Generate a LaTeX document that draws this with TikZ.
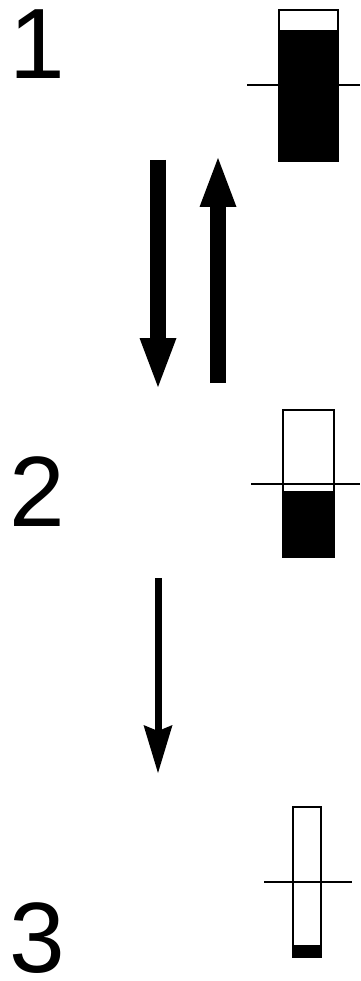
\documentclass[tikz,border=0pt]{standalone}
\usepackage{fontspec}
\setmainfont{Liberation Sans}
\usetikzlibrary{arrows.meta}
\tikzset{
  stagelabel/.style={anchor=base,inner sep=0pt,font=\fontsize{100}{100}\selectfont},
  cellbox/.style={draw=black,line width=1.6pt},
  levelline/.style={draw=black,line width=1.6pt},
  thickflow/.style={line width=16pt,-{Triangle[width=37pt,length=49pt,line width=0pt]}},
  thinflow/.style={line width=7pt,-{Stealth[width=29pt,length=48pt,inset=6pt,line width=0pt]}}
}

\begin{document}
\begin{tikzpicture}[x=1pt,y=-1pt]
\path[use as bounding box] (0,0) rectangle (360,981);
\node[stagelabel] (lab1) at (37,79) {1};
\node[stagelabel] (lab2) at (37,526) {2};
\node[stagelabel] (lab3) at (37,972) {3};
\fill[black] (279,30) rectangle (338,161);
\draw[cellbox] (279,10) rectangle (338,161);
\draw[levelline] (247,85) -- (360,85);
\fill[black] (283,491) rectangle (334,557);
\draw[cellbox] (283,410) rectangle (334,557);
\draw[levelline] (251,484) -- (360,484);
\fill[black] (293,945) rectangle (321,957);
\draw[cellbox] (293,807) rectangle (321,957);
\draw[levelline] (264,882) -- (352,882);
\coordinate (down1s) at (158,160);
\coordinate (down1e) at (158,387);
\coordinate (up1s) at (218,383);
\coordinate (up1e) at (218,158);
\coordinate (down2s) at (158,578);
\coordinate (down2e) at (158,773);
\draw[thickflow] (down1s) -- (down1e);
\draw[thickflow] (up1s) -- (up1e);
\draw[thinflow] (down2s) -- (down2e);
\end{tikzpicture}
\end{document}
